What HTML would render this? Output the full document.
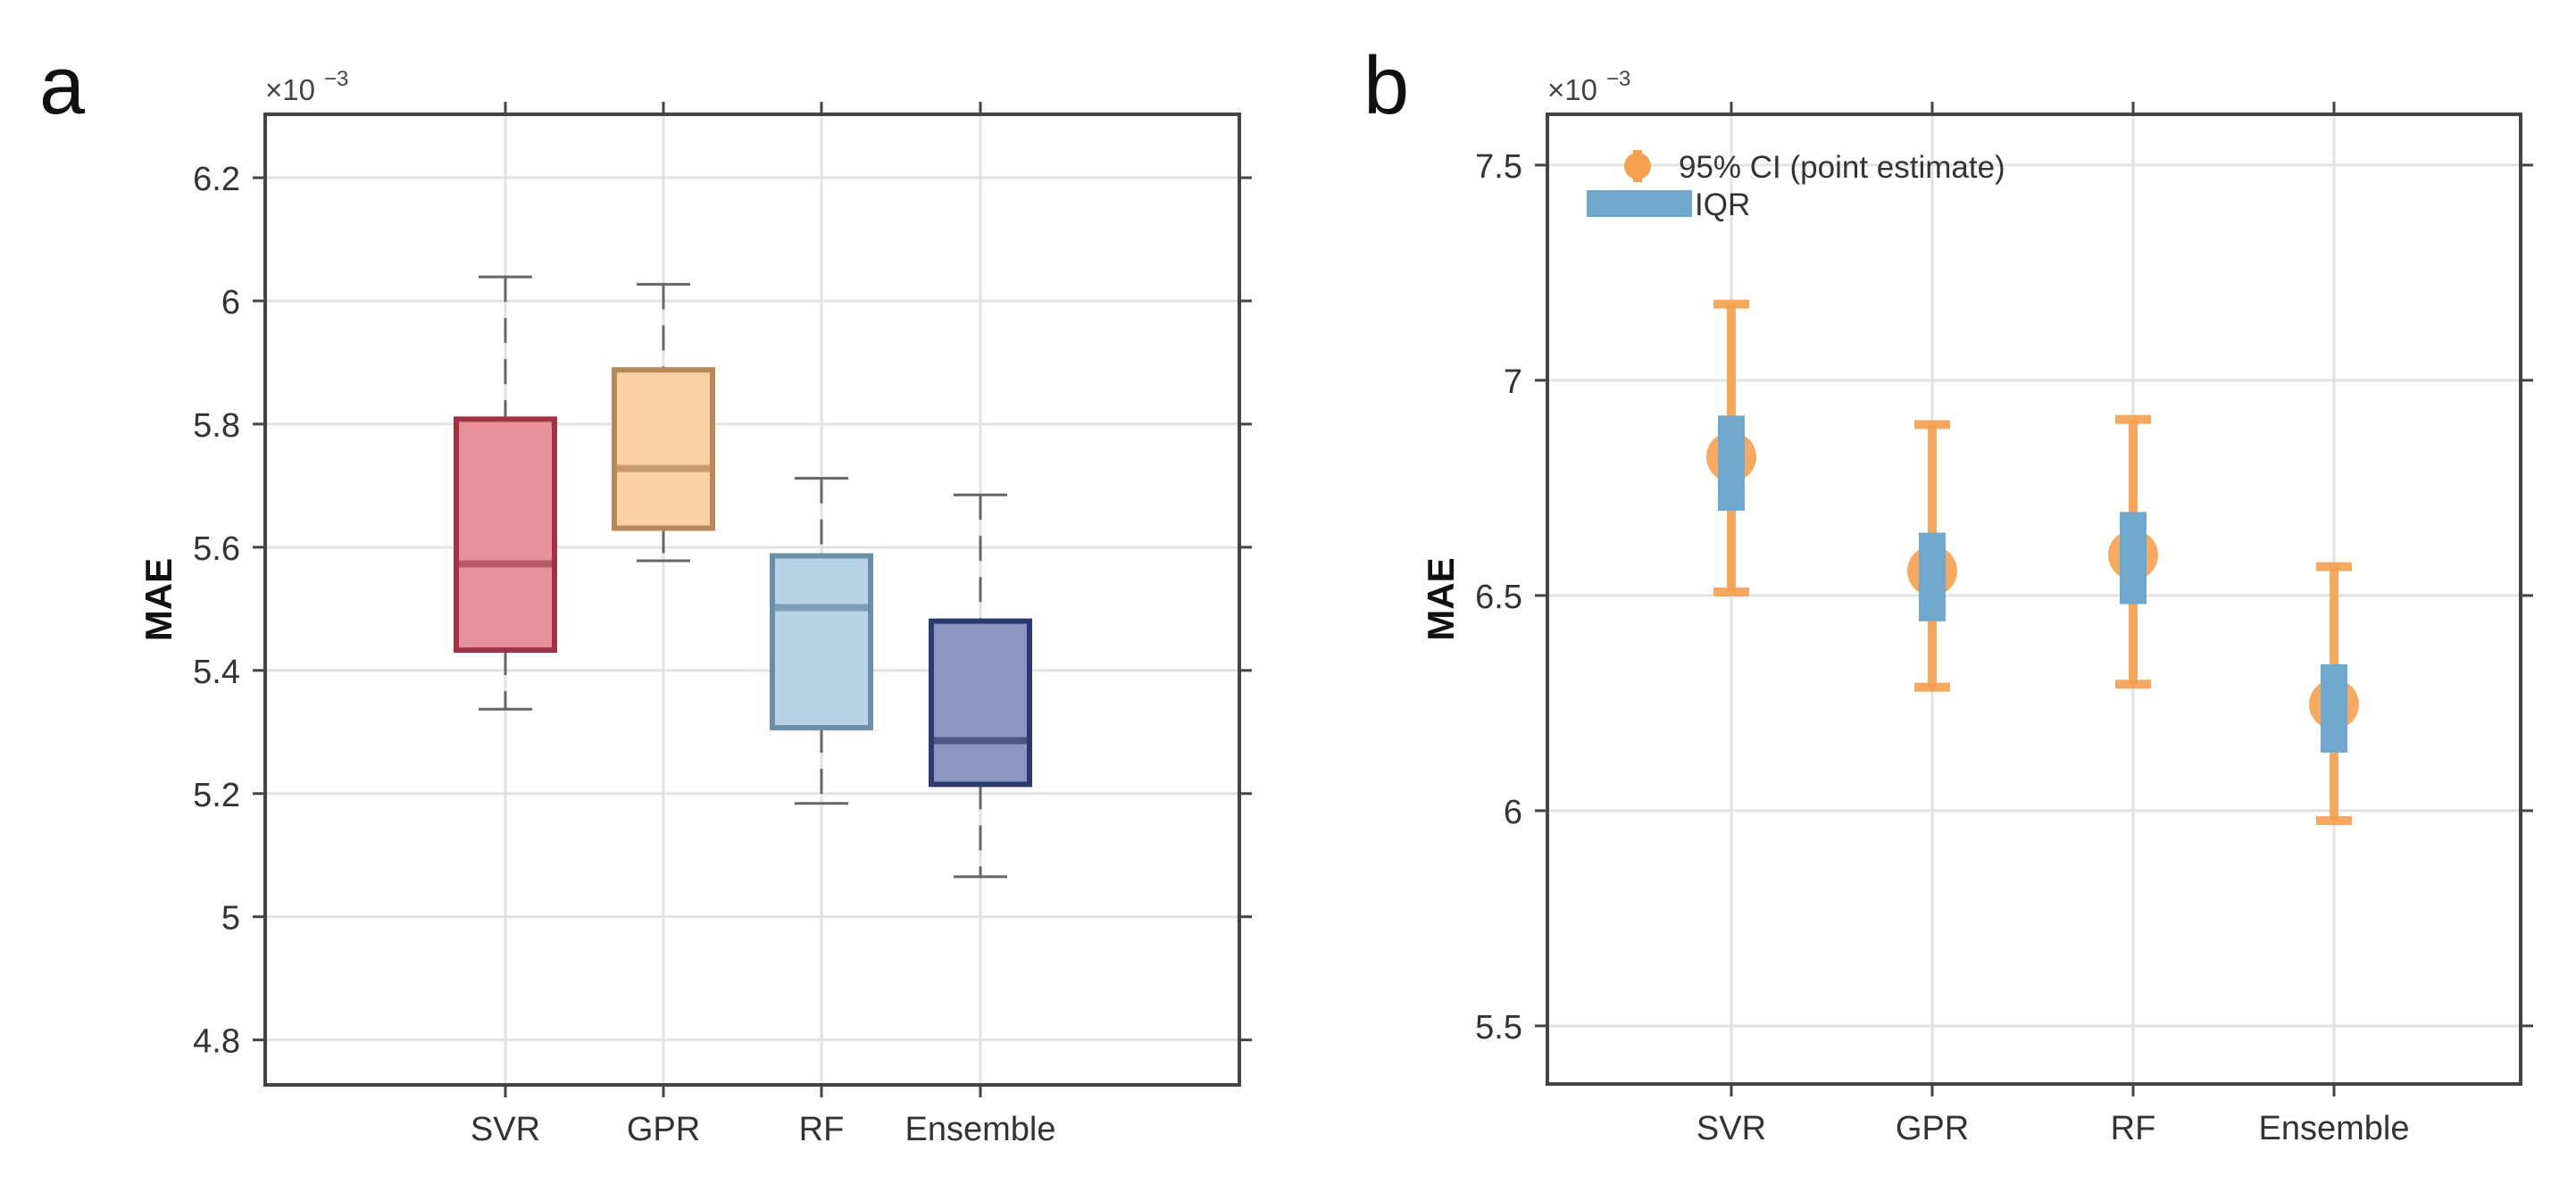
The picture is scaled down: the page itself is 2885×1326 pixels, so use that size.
<!DOCTYPE html>
<html><head><meta charset="utf-8"><style>
html,body{margin:0;padding:0;background:#fff;}
svg{display:block;font-family:"Liberation Sans",Arial,sans-serif;}
</style></head><body>
<svg id="fig" width="2885" height="1326" viewBox="0 0 2885 1326" xmlns="http://www.w3.org/2000/svg">
<text x="44" y="127" font-size="92" fill="#111">a</text>
<text x="1527" y="127" font-size="92" fill="#111">b</text>
<g id="pa"></g>
<g id="pb"></g>
</svg>
<script>
const categories = ["SVR","GPR","RF","Ensemble"];
// panel a box stats (x1e-3)
const boxWhiskerHigh = [6.039, 6.027, 5.712, 5.685];
const boxQ3 = [5.808, 5.888, 5.586, 5.480];
const boxMedian = [5.573, 5.728, 5.502, 5.286];
const boxQ1 = [5.433, 5.631, 5.307, 5.215];
const boxWhiskerLow = [5.337, 5.578, 5.184, 5.065];
const ticksA = [4.8, 5, 5.2, 5.4, 5.6, 5.8, 6, 6.2];
const tickLabelsA = ["4.8","5","5.2","5.4","5.6","5.8","6","6.2"];
// panel b
const ciHigh = [7.177, 6.897, 6.909, 6.567];
const ciLow = [6.508, 6.287, 6.294, 5.977];
const pointEst = [6.822, 6.557, 6.594, 6.247];
const iqrHigh = [6.918, 6.646, 6.694, 6.340];
const iqrLow = [6.697, 6.440, 6.480, 6.135];
const ticksB = [5.5, 6, 6.5, 7, 7.5];
const tickLabelsB = ["5.5","6","6.5","7","7.5"];

const NS = "http://www.w3.org/2000/svg";
function mk(parent, tag, attrs, text){
  const e = document.createElementNS(NS, tag);
  for (const k in attrs) e.setAttribute(k, attrs[k]);
  if (text !== undefined) e.textContent = text;
  parent.appendChild(e);
  return e;
}
const fills = ["#e8909a","#fbd0a2","#b8d3e6","#8c96c0"];
const edges = ["#a03242","#b8875a","#6a8ea8","#2c3870"];
const meds = ["#b85a66","#c99a70","#7d9db4","#4c5682"];

function axes(g, L, R, T, B, xs, ticks, labels, yf, pfx){
  ticks.forEach((t,i)=>{
    const y = yf(t);
    const gl = mk(g,"line",{x1:L,x2:R,y1:y,y2:y,stroke:"#e2e2e2","stroke-width":3});
    
    
    mk(g,"line",{x1:L-14,x2:L,y1:y,y2:y,stroke:"#444","stroke-width":3});
    mk(g,"line",{x1:R,x2:R+14,y1:y,y2:y,stroke:"#444","stroke-width":3});
    const tl = mk(g,"text",{x:L-28,y:y+14,"text-anchor":"end","font-size":38,fill:"#333"},labels[i]);
    
    
  });
  xs.forEach((x,i)=>{
    const gl = mk(g,"line",{x1:x,x2:x,y1:T,y2:B,stroke:"#e2e2e2","stroke-width":3});
    
    
    mk(g,"line",{x1:x,x2:x,y1:T-14,y2:T,stroke:"#444","stroke-width":3});
    mk(g,"line",{x1:x,x2:x,y1:B,y2:B+14,stroke:"#444","stroke-width":3});
    const xl = mk(g,"text",{x:x,y:B+62,"text-anchor":"middle","font-size":38,fill:"#333"},categories[i]);
    
    
  });
  const fr = mk(g,"rect",{x:L,y:T,width:R-L,height:B-T,fill:"none",stroke:"#444","stroke-width":4});
  
  
  const ex = mk(g,"text",{x:L,y:T-16,"font-size":33,fill:"#444"},"×10");
  
  
  mk(g,"text",{x:L+66,y:T-32,"font-size":24,fill:"#444"},"−3");
  const yt = mk(g,"text",{x:0,y:0,"font-size":42,"font-weight":"bold",fill:"#111","text-anchor":"middle",transform:`translate(${L-105},${(T+B)/2}) rotate(-90)`},"MAE");
  
  
}

// Panel A
(function(){
  const g = document.getElementById("pa");
  const L=297,R=1388,T=128,B=1215, vTop=6.303, vBot=4.727;
  const yf = v => T + (vTop - v)/(vTop - vBot)*(B-T);
  const xs = [566,743,920,1098];
  axes(g,L,R,T,B,xs,ticksA,tickLabelsA,yf,'a');
  categories.forEach((c,i)=>{
    const x = xs[i], hw=55, cw=30;
    const grp = mk(g,"g",{});
    
    
    const dash = {stroke:"#666","stroke-width":3,"stroke-dasharray":"28,18"};
    mk(grp,"line",Object.assign({x1:x,x2:x,y1:yf(boxWhiskerHigh[i]),y2:yf(boxQ3[i])},dash));
    mk(grp,"line",Object.assign({x1:x,x2:x,y1:yf(boxQ1[i]),y2:yf(boxWhiskerLow[i])},dash));
    mk(grp,"line",{x1:x-cw,x2:x+cw,y1:yf(boxWhiskerHigh[i]),y2:yf(boxWhiskerHigh[i]),stroke:"#666","stroke-width":3});
    mk(grp,"line",{x1:x-cw,x2:x+cw,y1:yf(boxWhiskerLow[i]),y2:yf(boxWhiskerLow[i]),stroke:"#666","stroke-width":3});
    mk(grp,"rect",{x:x-hw,y:yf(boxQ3[i]),width:2*hw,height:yf(boxQ1[i])-yf(boxQ3[i]),fill:fills[i],stroke:edges[i],"stroke-width":6});
    mk(grp,"line",{x1:x-hw+3,x2:x+hw-3,y1:yf(boxMedian[i]),y2:yf(boxMedian[i]),stroke:meds[i],"stroke-width":8});
  });
})();

// Panel B
(function(){
  const g = document.getElementById("pb");
  const L=1733,R=2823,T=128,B=1214, vTop=7.618, vBot=5.365;
  const yf = v => T + (vTop - v)/(vTop - vBot)*(B-T);
  const xs = [1939,2164,2389,2614];
  axes(g,L,R,T,B,xs,ticksB,tickLabelsB,yf,'b');
  const orange="#f5a04f";
  categories.forEach((c,i)=>{
    const x = xs[i];
    const grp = mk(g,"g",{});
    
    
    mk(grp,"line",{x1:x,x2:x,y1:yf(ciHigh[i]),y2:yf(ciLow[i]),stroke:orange,"stroke-width":10,opacity:0.9});
    mk(grp,"line",{x1:x-20,x2:x+20,y1:yf(ciHigh[i]),y2:yf(ciHigh[i]),stroke:orange,"stroke-width":10,opacity:0.9});
    mk(grp,"line",{x1:x-20,x2:x+20,y1:yf(ciLow[i]),y2:yf(ciLow[i]),stroke:orange,"stroke-width":10,opacity:0.9});
    mk(grp,"circle",{cx:x,cy:yf(pointEst[i]),r:28,fill:orange,opacity:0.9});
    mk(grp,"rect",{x:x-15,y:yf(iqrHigh[i]),width:30,height:yf(iqrLow[i])-yf(iqrHigh[i]),fill:"#6fa8cc"});
  });
  const lg = mk(g,"g",{});
  
  
  mk(lg,"line",{x1:1834,x2:1834,y1:168,y2:204,stroke:orange,"stroke-width":10});
  mk(lg,"circle",{cx:1834,cy:186,r:15,fill:orange});
  mk(lg,"text",{x:1880,y:199,"font-size":35,fill:"#333"},"95% CI (point estimate)");
  mk(lg,"rect",{x:1777,y:213,width:118,height:30,fill:"#6fa8cc"});
  mk(lg,"text",{x:1898,y:241,"font-size":35,fill:"#333"},"IQR");
})();
</script>
</body></html>
